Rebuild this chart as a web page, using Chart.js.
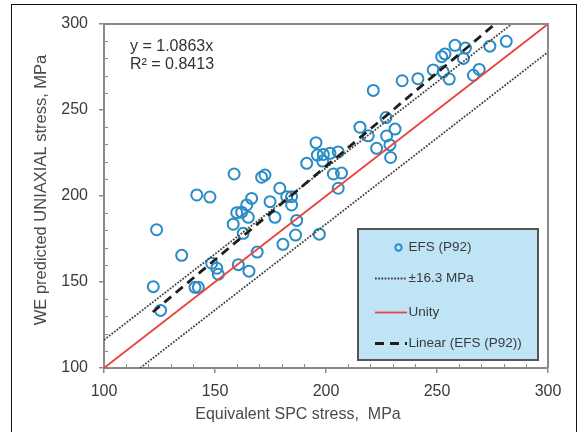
<!DOCTYPE html>
<html>
<head>
<meta charset="utf-8">
<script src="https://cdn.jsdelivr.net/npm/chart.js@4.4.1/dist/chart.umd.min.js"></script>
<style>
    html, body { margin: 0; padding: 0; background: #fff; overflow: hidden; }
    #wrap { position: relative; width: 584px; height: 432px; }
    #marco { position: absolute; left: 11px; top: 4px; width: 566px; height: 450px; border: 1.5px solid #111; box-sizing: border-box; }
    #wrap canvas { position: absolute; left: 0; top: 0; }
</style>
</head>
<body>
<div id="wrap">
    <div id="marco"></div>
    <canvas id="grafica" width="584" height="432"></canvas>
</div>
<script>
(function () {
    "use strict";

    // Tensión SPC equivalente (eje X) frente a tensión uniaxial predicha (eje Y), MPa.
    var SPC_X = [
        123.7, 141.8, 147.7, 135.0, 122.2, 125.5, 141.0, 142.5, 148.5, 150.8,
        151.5, 158.2, 159.8, 162.0, 164.3, 166.5, 165.0, 162.7, 160.5, 165.3,
        169.0, 174.8, 179.2, 177.0, 182.3, 184.5, 184.5, 186.8, 186.3, 180.6,
        197.0, 158.6, 171.0, 172.5, 191.3, 195.5, 196.1, 198.8, 201.8, 198.5,
        205.5, 203.3, 207.0, 205.5, 215.3, 221.3, 234.3, 241.4, 248.3, 252.1,
        253.6, 258.1, 262.8, 261.9, 252.8, 255.5, 266.4, 269.0, 273.8, 281.2,
        219.0, 227.0, 231.1, 227.3, 222.8, 228.8, 229.1
    ];
    var UNIAX_Y = [
        180.4, 200.6, 199.4, 165.5, 147.3, 133.5, 146.9, 146.9, 160.9, 158.0,
        154.5, 183.6, 190.3, 190.6, 194.8, 198.6, 187.6, 178.3, 160.1, 156.3,
        167.4, 196.7, 204.5, 187.6, 199.6, 199.6, 194.8, 185.8, 177.3, 171.9,
        177.8, 212.8, 210.9, 212.2, 219.0, 231.0, 223.8, 224.2, 224.8, 220.3,
        225.6, 212.8, 213.3, 204.5, 240.0, 261.4, 267.0, 268.2, 273.3, 281.0,
        282.6, 287.6, 286.0, 280.0, 272.2, 268.0, 270.2, 273.6, 287.1, 289.9,
        235.0, 245.6, 238.9, 234.9, 227.7, 229.7, 222.4
    ];

    // Ajuste lineal por el origen y banda de dispersión.
    var PENDIENTE = 1.0863;
    var R2 = 0.8413;
    var BANDA = 16.3;
    var AJUSTE_X = [122, 276];   // tramo dibujado de la recta de ajuste
    var EJE_MIN = 100, EJE_MAX = 300;
    var TICKS = [100, 150, 200, 250, 300];

    var AZUL = "#2a8cc4", ROJO = "#e8463e", GRIS = "#8a8a8a";
    var FUENTE = "'Liberation Sans', Arial, sans-serif";

    var puntos = SPC_X.map(function (x, i) { return { x: x, y: UNIAX_Y[i] }; });
    var unidad = [{ x: EJE_MIN, y: EJE_MIN }, { x: EJE_MAX, y: EJE_MAX }];
    var bandaSup = [{ x: EJE_MIN, y: EJE_MIN + BANDA }, { x: EJE_MAX - BANDA, y: EJE_MAX }];
    var bandaInf = [{ x: EJE_MIN + BANDA, y: EJE_MIN }, { x: EJE_MAX, y: EJE_MAX - BANDA }];
    var ajuste = AJUSTE_X.map(function (x) { return { x: x, y: PENDIENTE * x }; });

    function linea(etiqueta, datos, color, ancho, trazo, orden) {
        return {
            type: "line", label: etiqueta, data: datos,
            borderColor: color, borderWidth: ancho, borderDash: trazo,
            pointRadius: 0, fill: false, tension: 0, order: orden
        };
    }

    // Rayitas menores hacia dentro, marco superior/derecho, ecuación, títulos y leyenda.
    var decorado = {
        id: "decorado",
        afterDatasetsDraw: function (chart) {
            var ctx = chart.ctx, a = chart.chartArea;
            var sx = chart.scales.x, sy = chart.scales.y;
            ctx.save();
            ctx.strokeStyle = GRIS;
            ctx.lineWidth = 1;
            for (var v = EJE_MIN + 10; v < EJE_MAX; v += 10) {
                if (v % 50 === 0) continue;
                var px = Math.round(sx.getPixelForValue(v)) + 0.5;
                var py = Math.round(sy.getPixelForValue(v)) + 0.5;
                ctx.beginPath();
                ctx.moveTo(px, a.bottom); ctx.lineTo(px, a.bottom - 4);
                ctx.moveTo(a.left, py); ctx.lineTo(a.left + 4, py);
                ctx.stroke();
            }
            ctx.lineWidth = 2;
            ctx.beginPath();
            ctx.moveTo(a.left, a.top); ctx.lineTo(a.right, a.top); ctx.lineTo(a.right, a.bottom);
            ctx.stroke();
            ctx.restore();
        },
        afterDraw: function (chart) {
            var ctx = chart.ctx, a = chart.chartArea;
            ctx.save();
            ctx.fillStyle = "#333";
            ctx.font = "16px " + FUENTE;
            ctx.textAlign = "left";
            ctx.textBaseline = "middle";
            ctx.fillText("y = " + PENDIENTE.toFixed(4) + "x", a.left + 26, a.top + 23);
            ctx.fillText("R\u00b2 = " + R2.toFixed(4), a.left + 26, a.top + 41);

            ctx.fillStyle = "#4a4a4a";
            ctx.textAlign = "center";
            ctx.fillText("Equivalent SPC stress,  MPa", 298, 415);
            ctx.save();
            ctx.translate(41, 190);
            ctx.rotate(-Math.PI / 2);
            ctx.font = "16.5px " + FUENTE;
            ctx.fillText("WE predicted UNIAXIAL stress, MPa", 0, 0);
            ctx.restore();

            // Leyenda en recuadro azul claro
            var w = 180, h = 131;
            var x0 = a.right - 10 - w, y0 = a.bottom - 8 - h;
            ctx.fillStyle = "#bfe4f6";
            ctx.fillRect(x0, y0, w, h);
            ctx.strokeStyle = "#555";
            ctx.lineWidth = 2;
            ctx.strokeRect(x0, y0, w, h);

            var ds = chart.data.datasets;
            var filas = [
                { d: ds[0], y: 18.5, marca: "punto" },
                { d: ds[1], y: 49.5 },
                { d: ds[3], y: 83.5 },
                { d: ds[4], y: 114.5 }
            ];
            ctx.font = "13.5px " + FUENTE;
            ctx.textAlign = "left";
            filas.forEach(function (f) {
                var yy = y0 + f.y;
                if (f.marca === "punto") {
                    ctx.strokeStyle = f.d.borderColor;
                    ctx.lineWidth = 2;
                    ctx.setLineDash([]);
                    ctx.beginPath();
                    ctx.arc(x0 + 40.5, yy, 3.2, 0, Math.PI * 2);
                    ctx.stroke();
                } else {
                    ctx.strokeStyle = f.d.borderColor;
                    ctx.lineWidth = f.d.borderWidth;
                    ctx.setLineDash(f.d.borderDash || []);
                    ctx.beginPath();
                    ctx.moveTo(x0 + 17, yy);
                    ctx.lineTo(x0 + 49, yy);
                    ctx.stroke();
                }
                ctx.setLineDash([]);
                ctx.fillStyle = "#3a3a3a";
                ctx.fillText(f.d.label, x0 + 50.5, yy);
            });
            ctx.restore();
        }
    };

    function eje(extra) {
        var base = {
            type: "linear", min: EJE_MIN, max: EJE_MAX,
            afterBuildTicks: function (s) { s.ticks = TICKS.map(function (v) { return { value: v }; }); },
            grid: { drawOnChartArea: false, drawTicks: true, tickLength: 5, color: GRIS, lineWidth: 1.5 },
            border: { color: GRIS, width: 2 },
            ticks: { color: "#3a3a3a", font: { family: FUENTE, size: 16 } }
        };
        for (var k in extra) base[k] = extra[k];
        return base;
    }

    new Chart(document.getElementById("grafica"), {
        type: "scatter",
        data: {
            datasets: [
                {
                    label: "EFS (P92)", data: puntos,
                    pointStyle: "circle", pointRadius: 5.5, pointHoverRadius: 5.5,
                    borderColor: AZUL, backgroundColor: "rgba(0,0,0,0)", borderWidth: 2, order: 5
                },
                linea("\u00b116.3 MPa", bandaSup, "#444", 1.8, [1.8, 1.4], 3),
                linea("", bandaInf, "#444", 1.8, [1.8, 1.4], 3),
                linea("Unity", unidad, ROJO, 1.8, [], 2),
                linea("Linear (EFS (P92))", ajuste, "#1e1e1e", 2.8, [9, 6], 1)
            ]
        },
        options: {
            responsive: false,
            animation: false,
            events: [],
            layout: { padding: { left: 0, right: 36, top: 24, bottom: 0 } },
            plugins: { legend: { display: false }, tooltip: { enabled: false } },
            scales: {
                x: eje({
                    position: "bottom",
                    afterFit: function (s) { s.height = 64; },
                    ticks: { color: "#3a3a3a", padding: 9, maxRotation: 0, font: { family: FUENTE, size: 16 } }
                }),
                y: eje({
                    position: "left",
                    afterFit: function (s) { s.width = 104; },
                    ticks: { color: "#3a3a3a", padding: 11, font: { family: FUENTE, size: 16 } }
                })
            }
        },
        plugins: [decorado]
    });
})();
</script>
</body>
</html>
